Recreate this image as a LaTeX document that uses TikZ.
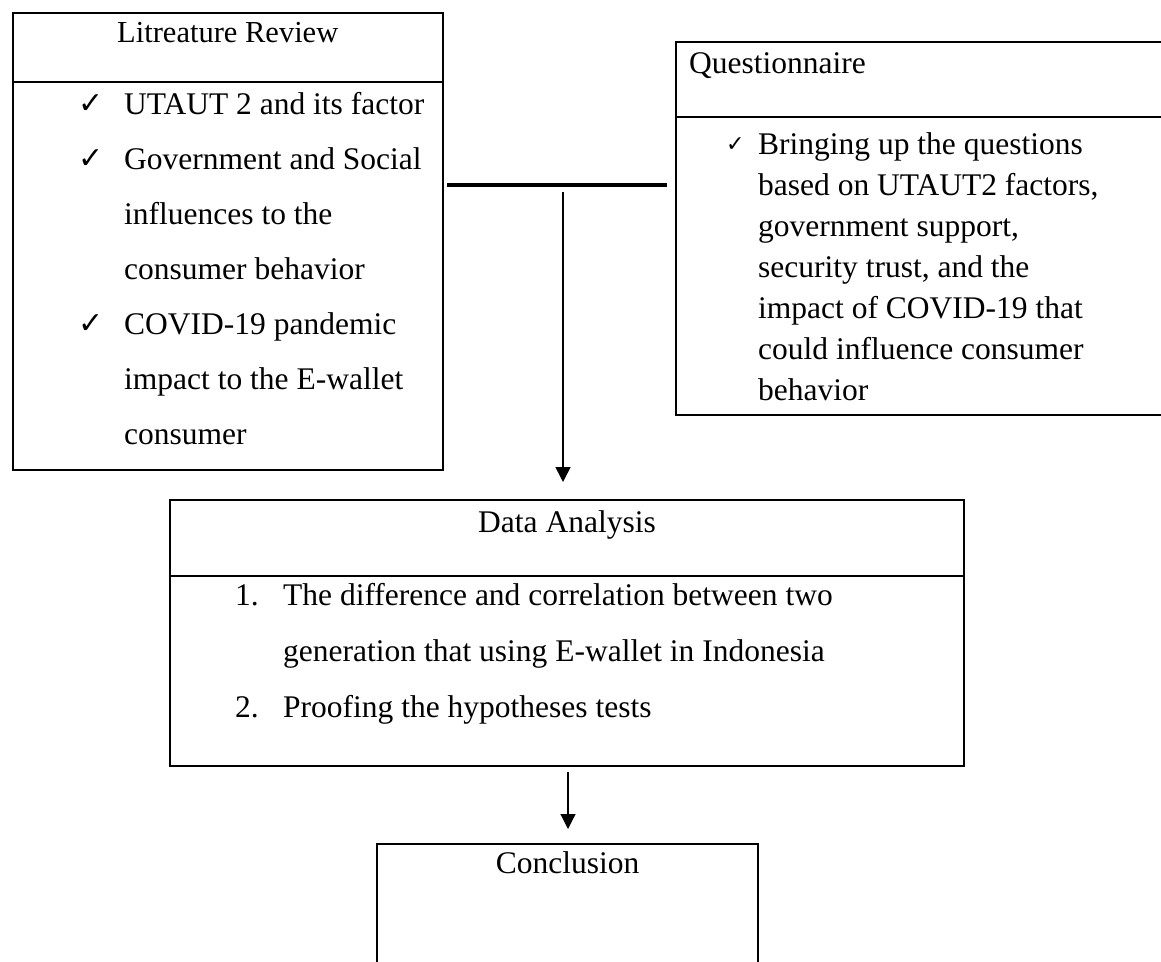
\documentclass[tikz,border=0pt]{standalone}
\usepackage{fontspec}
\setmainfont{Liberation Serif}
\newfontfamily\chkfont{DejaVu Sans}
\usetikzlibrary{arrows.meta}
\begin{document}
\begin{tikzpicture}[x=1pt,y=-1pt,
  boxnode/.style={draw, line width=2pt, inner sep=0pt},
  divline/.style={line width=2pt},
  ttl/.style={inner sep=0pt, anchor=base, font=\fontsize{31.5}{38}\selectfont},
  ttlw/.style={inner sep=0pt, anchor=base west, font=\fontsize{31.5}{38}\selectfont},
  txt/.style={inner sep=0pt, anchor=base west, font=\fontsize{31.5}{38}\selectfont},
  bigchk/.style={inner sep=0pt, anchor=base west, font=\chkfont\fontsize{30}{34}\selectfont},
  smallchk/.style={inner sep=0pt, anchor=base west, font=\chkfont\fontsize{22}{26}\selectfont},
  thickjoin/.style={line width=4pt},
  flow/.style={line width=1.6pt, -{Triangle[width=15pt,length=15pt]}},
  flowthin/.style={line width=1.2pt, -{Triangle[width=15pt,length=15pt]}}
]
\useasboundingbox (0,0) rectangle (1161,961);
\clip (0,0) rectangle (1161,961);
\fill[white] (0,0) rectangle (1161,961);

% Literature Review box
\node[boxnode, minimum width=430.5pt, minimum height=457pt] (lit) at (227.75,241.5) {};
\draw[divline] (lit.west |- 0,82) -- (lit.east |- 0,82);
\node[ttl, font=\fontsize{30.5}{36}\selectfont] (littitle) at (227.75,42) {Litreature Review};
\node[bigchk] (lc1) at (78,113) {✓};
\node[bigchk] (lc2) at (78,168) {✓};
\node[bigchk] (lc3) at (78,333) {✓};
\node[txt] (l1) at (124,114) {UTAUT 2 and its factor};
\node[txt] (l2) at (124,169) {Government and Social};
\node[txt] (l3) at (124,224) {influences to the};
\node[txt] (l4) at (124,279) {consumer behavior};
\node[txt] (l5) at (124,334) {COVID-19 pandemic};
\node[txt] (l6) at (124,389) {impact to the E-wallet};
\node[txt] (l7) at (124,444) {consumer};

% Questionnaire box (runs past the right edge)
\node[boxnode, minimum width=504pt, minimum height=373pt] (quest) at (928,228.5) {};
\draw[divline] (quest.west |- 0,117) -- (quest.east |- 0,117);
\node[ttlw] (qtitle) at (689,73) {Questionnaire};
\node[smallchk] (qc1) at (726,151) {✓};
\node[txt] (q1) at (758,154) {Bringing up the questions};
\node[txt] (q2) at (758,195) {based on UTAUT2 factors,};
\node[txt] (q3) at (758,236) {government support,};
\node[txt] (q4) at (758,277) {security trust, and the};
\node[txt] (q5) at (758,318) {impact of COVID-19 that};
\node[txt] (q6) at (758,359) {could influence consumer};
\node[txt] (q7) at (758,400) {behavior};

% Data Analysis box
\node[boxnode, minimum width=794pt, minimum height=266pt] (data) at (567,633) {};
\draw[divline] (data.west |- 0,576) -- (data.east |- 0,576);
\node[ttl] (dtitle) at (567,532) {Data Analysis};
\node[txt] (dn1) at (235,605) {1.};
\node[txt] (d1) at (283,605) {The difference and correlation between two};
\node[txt] (d2) at (283,661) {generation that using E-wallet in Indonesia};
\node[txt] (dn2) at (235,717) {2.};
\node[txt] (d3) at (283,717) {Proofing the hypotheses tests};

% Conclusion box (runs past the bottom edge)
\node[boxnode, minimum width=381pt, minimum height=131pt] (concl) at (567.5,909.5) {};
\node[ttl] (ctitle) at (567.5,873) {Conclusion};

% Connectors
\coordinate (joinL) at (447,185);
\coordinate (joinR) at (667,185);
\draw[thickjoin] (joinL) -- (joinR);
\coordinate (a1s) at (563,192);
\coordinate (a1e) at (563,482);
\draw[flow] (a1s) -- (a1e);
\coordinate (a2s) at (568,772);
\coordinate (a2e) at (568,829);
\draw[flowthin] (a2s) -- (a2e);
\end{tikzpicture}
\end{document}
